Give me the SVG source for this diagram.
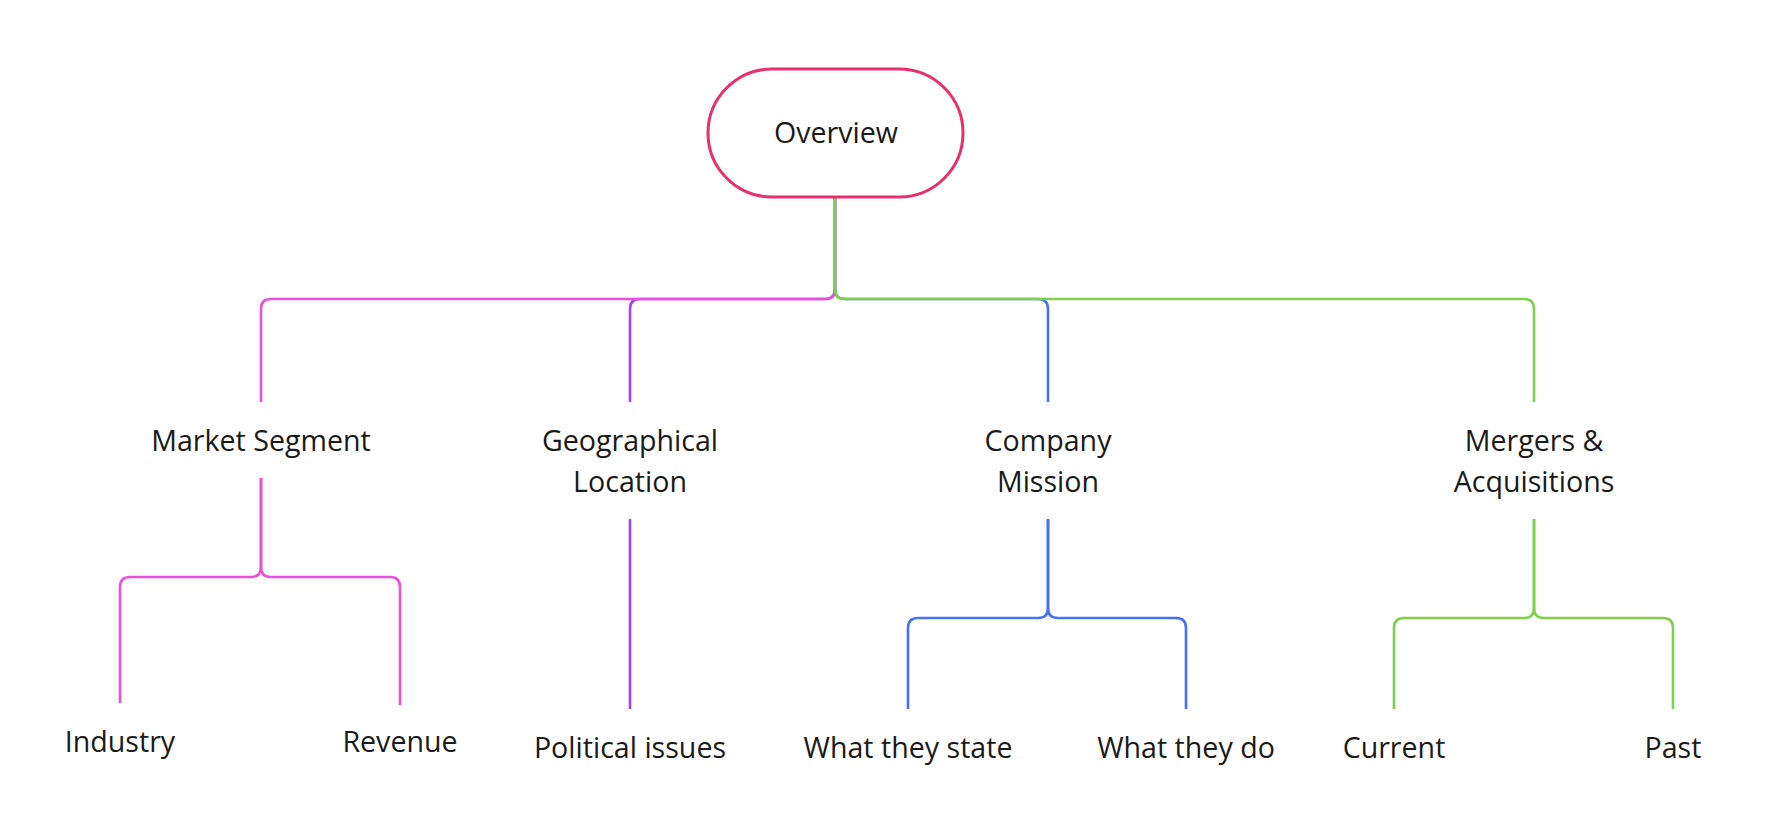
<svg xmlns="http://www.w3.org/2000/svg" width="1786" height="814" viewBox="0 0 1786 814">
<style>
.t{font-family:"Open Sans","Liberation Sans",sans-serif;font-size:28.6px;fill:#1a1a1a;text-anchor:middle}
.c{fill:none;stroke-width:2.6;stroke-linecap:butt;stroke-linejoin:round}
.pink{stroke:#e950e0}
.purple{stroke:#a540f5}
.blue{stroke:#4472f5}
.green{stroke:#80d050}
</style>
<rect width="1786" height="814" fill="#ffffff"/>
<g id="connectors">
<path class="c purple" d="M835,197 V289 Q835,299 825,299 H640 Q630,299 630,309 V402"/>
<path class="c pink" d="M835,197 V289 Q835,299 825,299 H271 Q261,299 261,309 V402"/>
<path class="c blue" d="M835,197 V289 Q835,299 845,299 H1038 Q1048,299 1048,309 V402"/>
<path class="c green" d="M835,197 V289 Q835,299 845,299 H1524 Q1534,299 1534,309 V402"/>
<path class="c pink" d="M261,478 V567 Q261,577 251,577 H130 Q120,577 120,587 V703"/>
<path class="c pink" d="M261,478 V567 Q261,577 271,577 H390 Q400,577 400,587 V705"/>
<path class="c purple" d="M630,519 V709"/>
<path class="c blue" d="M1048,519 V608 Q1048,618 1038,618 H918 Q908,618 908,628 V709"/>
<path class="c blue" d="M1048,519 V608 Q1048,618 1058,618 H1176 Q1186,618 1186,628 V709"/>
<path class="c green" d="M1534,519 V608 Q1534,618 1524,618 H1404 Q1394,618 1394,628 V709"/>
<path class="c green" d="M1534,519 V608 Q1534,618 1544,618 H1663 Q1673,618 1673,628 V709"/>
</g>
<g id="overview">
<rect x="708" y="69" width="255" height="128" rx="64" ry="64" fill="#ffffff" stroke="#e8306e" stroke-width="3"/>
<text class="t" x="836" y="143">Overview</text>
</g>
<g id="market-segment"><text class="t" x="261" y="451">Market Segment</text></g>
<g id="geographical-location"><text class="t" x="630" y="451">Geographical</text><text class="t" x="630" y="492">Location</text></g>
<g id="company-mission"><text class="t" x="1048" y="451">Company</text><text class="t" x="1048" y="492">Mission</text></g>
<g id="mergers-acquisitions"><text class="t" x="1534" y="451">Mergers &amp;</text><text class="t" x="1534" y="492">Acquisitions</text></g>
<g id="industry"><text class="t" x="120" y="752">Industry</text></g>
<g id="revenue"><text class="t" x="400" y="752">Revenue</text></g>
<g id="political-issues"><text class="t" x="630" y="758">Political issues</text></g>
<g id="what-they-state"><text class="t" x="908" y="758">What they state</text></g>
<g id="what-they-do"><text class="t" x="1186" y="758">What they do</text></g>
<g id="current"><text class="t" x="1394" y="758">Current</text></g>
<g id="past"><text class="t" x="1673" y="758">Past</text></g>
</svg>
